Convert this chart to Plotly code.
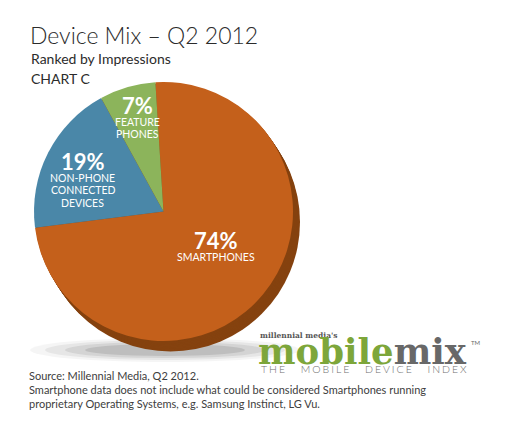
import math
import plotly.graph_objects as go

# ---------------- data ----------------
categories = ["SMARTPHONES", "NON-PHONE CONNECTED DEVICES", "FEATURE PHONES"]
shares = [74, 19, 7]
pct_labels = ["74%", "19%", "7%"]
label_lines = [["SMARTPHONES"], ["NON-PHONE", "CONNECTED", "DEVICES"], ["FEATURE", "PHONES"]]

title_text = "Device Mix – Q2 2012"
subtitle_text = "Ranked by Impressions"
chart_tag = "CHART C"
source_lines = [
    "Source: Millennial Media, Q2 2012.",
    "Smartphone data does not include what could be considered Smartphones running",
    "proprietary Operating Systems, e.g. Samsung Instinct, LG Vu.",
]
logo_small = "millennial media's"
logo_word_a = "mobile"
logo_word_b = "mix"
logo_tagline = "THE MOBILE DEVICE INDEX"

# ---------------- style ----------------
PAGE_OFF = 8                      # default body margin of the page
W, H = 512 - PAGE_OFF, 429 - PAGE_OFF
colors = ["#C4601B", "#4A87A8", "#8CB45B"]
rim_color = "#85420F"
rotation = -3.6
cx_s, cy_s, r_px = 163.5, 211.5, 129.5   # screen position of pie centre
rim_offset = (7, 10.5)
rim_steps = 8
label_r = [0.463, 0.735, 0.844]
label_dtheta = [-10.4, 4.7, 2.5]

FONT = "Lato, 'Open Sans', sans-serif"
LOGO_FONT = "'DejaVu Serif', serif"


def X(sx):
    return (sx - PAGE_OFF) / W


def Y(sy):
    return 1 - (sy - PAGE_OFF) / H


def dom(cx, cy):
    return dict(x=[X(cx - r_px), X(cx + r_px)], y=[Y(cy + r_px), Y(cy - r_px)])


fig = go.Figure()

# extruded rim (drawn underneath)
for k in range(rim_steps, 0, -1):
    dx = rim_offset[0] * k / rim_steps
    dy = rim_offset[1] * k / rim_steps
    fig.add_trace(go.Pie(values=[1], domain=dom(cx_s + dx, cy_s + dy),
                         marker=dict(colors=[rim_color], line=dict(width=0)),
                         textinfo="none", hoverinfo="skip", sort=False,
                         showlegend=False))

fig.add_trace(go.Pie(labels=categories, values=shares, domain=dom(cx_s, cy_s),
                     marker=dict(colors=colors, line=dict(width=0)),
                     sort=False, direction="clockwise", rotation=rotation,
                     textinfo="none", hoverinfo="label+percent", showlegend=False))

annotations = []


def ann(sx, sy, text, size, color, family=FONT, xanchor="left", weight=None):
    f = dict(family=family, size=size, color=color)
    if weight is not None:
        f["weight"] = weight
    annotations.append(dict(x=X(sx), y=Y(sy), xref="paper", yref="paper", text=text,
                            showarrow=False, xanchor=xanchor, yanchor="middle", font=f))


# slice labels placed from slice mid-angles
total = sum(shares)
start = rotation
for i, v in enumerate(shares):
    span = 360 * v / total
    mid = start + span / 2 + label_dtheta[i]
    start += span
    a = math.radians(mid)
    px = cx_s + label_r[i] * r_px * math.sin(a)
    py = cy_s - label_r[i] * r_px * math.cos(a)
    ann(px, py, "<b>" + pct_labels[i] + "</b>", 22, "white", xanchor="center")
    for j, line in enumerate(label_lines[i]):
        ann(px, py + 16.5 + j * 12.4, line, 10.5, "white", xanchor="center")

# titles
ann(28, 35, title_text, 23, "#2b2b2b", weight=300)
ann(29, 59, subtitle_text, 14, "#2b2b2b")
ann(29, 78, chart_tag, 14, "#2b2b2b")

# source notes
for j, line in enumerate(source_lines):
    ann(27, 375 + j * 14, line, 11, "#404040")

# logo
ann(258, 335.5, "<b>" + logo_small + "</b>", 7.5, "#555555", family=LOGO_FONT)
ann(256, 351, "<b><span style='color:#7DA63A'>" + logo_word_a + "</span>"
    "<span style='color:#686868'>" + logo_word_b + "</span></b>", 35.5, "#7DA63A",
    family=LOGO_FONT)
ann(469, 342, "TM", 6, "#686868")
spaced = "\u2002\u2002\u2002".join("\u2009\u200A".join(w) for w in logo_tagline.split(" "))
ann(259, 369, spaced, 10.5, "#707070", weight=300)

# soft ground shadow under pie
shapes = []
scx, scy = 165, 350
for rx, ry, op in [(135, 12, 0.04), (120, 10, 0.06), (100, 8, 0.08), (80, 6, 0.1)]:
    shapes.append(dict(type="circle", xref="paper", yref="paper",
                       x0=X(scx - rx), x1=X(scx + rx), y0=Y(scy + ry), y1=Y(scy - ry),
                       fillcolor="#000000", opacity=op, line=dict(width=0), layer="below"))

fig.update_layout(width=W, height=H, margin=dict(l=0, r=0, t=0, b=0),
                  paper_bgcolor="white", plot_bgcolor="white",
                  annotations=annotations, shapes=shapes, showlegend=False)

fig.write_html("out.html")
